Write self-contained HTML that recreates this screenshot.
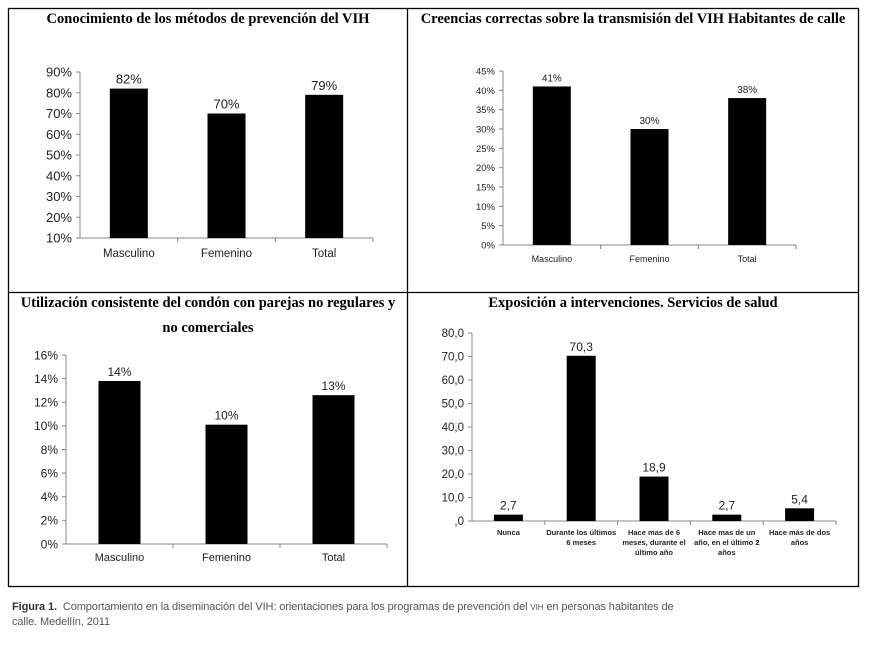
<!DOCTYPE html>
<html><head><meta charset="utf-8"><style>
body{margin:0;background:#fff;width:872px;height:650px;overflow:hidden;font-family:"Liberation Sans",sans-serif}
svg{position:absolute;left:0;top:0}
.t{font-family:"Liberation Serif",serif;font-weight:bold;font-size:14.5px;fill:#000}
.cap{position:absolute;left:12px;top:600px;font-size:11px;color:#555;line-height:14px;width:705px;letter-spacing:-0.1px}
</style></head><body>
<svg id="s" width="872" height="650">
<rect x="8.5" y="8.5" width="850" height="578" fill="none" stroke="#000" stroke-width="1.3"/>
<line x1="407.5" y1="8" x2="407.5" y2="587" stroke="#000" stroke-width="1.3"/>
<line x1="8" y1="292.5" x2="859" y2="292.5" stroke="#000" stroke-width="1.3"/>
<text class="t" x="208" y="23" text-anchor="middle">Conocimiento de los métodos de prevención del VIH</text>
<text class="t" x="633" y="23" text-anchor="middle">Creencias correctas sobre la transmisión del VIH Habitantes de calle</text>
<text class="t" x="208" y="307" text-anchor="middle">Utilización consistente del condón con parejas no regulares y</text>
<text class="t" x="208" y="332" text-anchor="middle">no comerciales</text>
<text class="t" x="633" y="307" text-anchor="middle">Exposición a intervenciones. Servicios de salud</text>
</svg>
<div class="cap"><b style="color:#333">Figura 1.</b>&nbsp; Comportamiento en la diseminación del VIH: orientaciones para los programas de prevención del <span style="font-size:8px">VIH</span> en personas habitantes de<br>calle. Medellín, 2011</div>
<script>
const cats1=["Masculino","Femenino","Total"];
const vals1=[82,70,79];
const labels1=["82%","70%","79%"];
const ticks1=[10,20,30,40,50,60,70,80,90];
const cats2=["Masculino","Femenino","Total"];
const vals2=[41,30,38];
const labels2=["41%","30%","38%"];
const ticks2=[0,5,10,15,20,25,30,35,40,45];
const cats3=["Masculino","Femenino","Total"];
const vals3=[13.8,10.1,12.6];
const labels3=["14%","10%","13%"];
const ticks3=[0,2,4,6,8,10,12,14,16];
const cats4=[["Nunca"],["Durante los últimos","6 meses"],["Hace mas de 6","meses, durante el","último año"],["Hace mas de un","año, en el último 2","años"],["Hace más de dos","años"]];
const vals4=[2.7,70.3,18.9,2.7,5.4];
const labels4=["2,7","70,3","18,9","2,7","5,4"];
const ticks4=[0,10,20,30,40,50,60,70,80];
const tickText4=[",0","10,0","20,0","30,0","40,0","50,0","60,0","70,0","80,0"];
const NS="http://www.w3.org/2000/svg";
const svg=document.getElementById('s');
function mk(tag,a,txt){const e=document.createElementNS(NS,tag);for(const k in a)e.setAttribute(k,a[k]);if(txt!==undefined)e.textContent=txt;svg.appendChild(e);return e;}
function chart(id,c){
  const y=v=>c.y1-(v-c.min)/(c.max-c.min)*(c.y1-c.y0);
  const slot=(c.x1-c.x0)/c.cats.length;
  let ax=mk('line',{x1:c.x0,y1:y(c.max),x2:c.x0,y2:c.y1,stroke:'#888','stroke-width':1});
  
  
  let bx=mk('line',{x1:c.x0,y1:c.y1,x2:c.x1,y2:c.y1,stroke:'#888','stroke-width':1});
  
  
  c.ticks.forEach((t,i)=>{
    let tl=mk('line',{x1:c.x0-4,y1:y(t),x2:c.x0,y2:y(t),stroke:'#888'});
    
    
    let tx=mk('text',{x:c.x0-8,y:y(t)+c.tf*0.36,'text-anchor':'end','font-size':c.tf,fill:'#222'},c.tt?c.tt[i]:t+'%');
    
    
  });
  for(let i=1;i<=c.cats.length;i++){
    let tk=mk('line',{x1:c.x0+slot*i,y1:c.y1,x2:c.x0+slot*i,y2:c.y1+4,stroke:'#888'});
    
    
  }
  c.cats.forEach((cat,i)=>{
    const cx=c.x0+slot*(i+0.5);
    let r=mk('rect',{x:cx-c.bw/2,y:y(c.vals[i]),width:c.bw,height:c.y1-y(c.vals[i]),fill:'#000'});
    
    
    let v=mk('text',{x:cx,y:y(c.vals[i])-5,'text-anchor':'middle','font-size':c.vf,fill:'#222'},c.labels[i]);
    
    
    const lines=Array.isArray(cat)?cat:[cat];
    lines.forEach((ln,j)=>{
      let l=mk('text',{x:cx,y:c.y1+c.cy+j*c.lh,'text-anchor':'middle','font-size':c.cf,fill:'#222','font-weight':c.cb?'bold':'normal'},ln);
      
      
    });
  });
}
chart('chart1',{x0:80,x1:373,y0:72,y1:238,min:10,max:90,cats:cats1,vals:vals1,labels:labels1,ticks:ticks1,bw:38,tf:13,vf:13,cf:11.5,cy:19,lh:12});
chart('chart2',{x0:503,x1:796,y0:71,y1:245,min:0,max:45,cats:cats2,vals:vals2,labels:labels2,ticks:ticks2,bw:38,tf:9.5,vf:10,cf:9,cy:17,lh:11});
chart('chart3',{x0:66,x1:387,y0:355,y1:544,min:0,max:16,cats:cats3,vals:vals3,labels:labels3,ticks:ticks3,bw:42,tf:12,vf:12,cf:11,cy:17,lh:12});
chart('chart4',{x0:472,x1:836,y0:333,y1:521,min:0,max:80,cats:cats4,vals:vals4,labels:labels4,ticks:ticks4,tt:tickText4,bw:29,tf:11.5,vf:12,cf:7.5,cb:true,cy:14,lh:10});
</script>
</body></html>
